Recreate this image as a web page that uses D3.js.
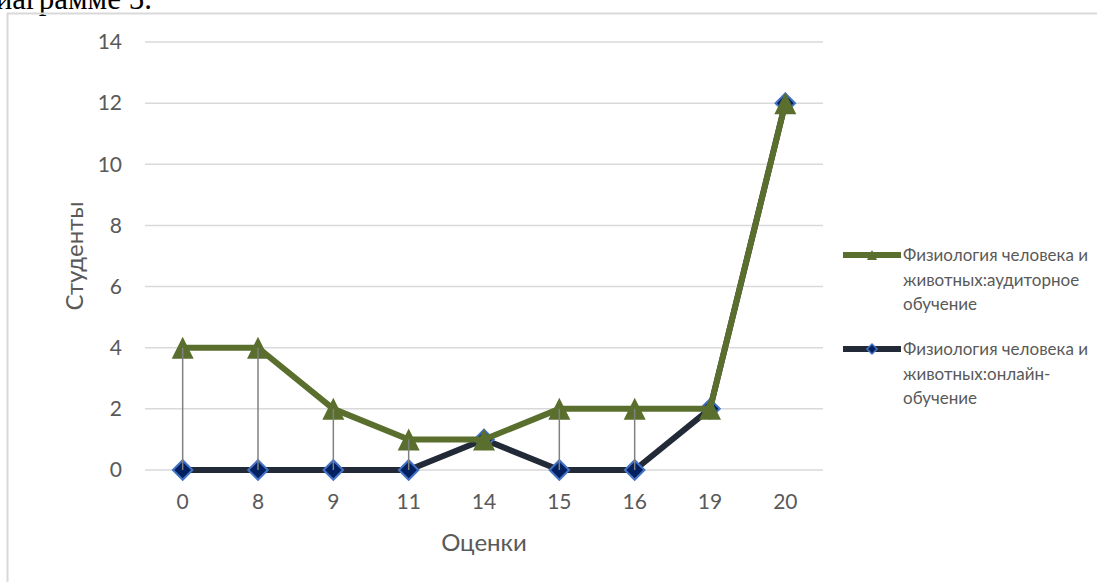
<!DOCTYPE html>
<html>
<head>
<meta charset="utf-8">
<script src="https://cdn.jsdelivr.net/npm/d3@7"></script>
<style>
  html, body { margin: 0; padding: 0; background: #fff; }
  svg { display: block; }
</style>
</head>
<body>
<svg id="chart" width="1097" height="582"></svg>
<script>
// Grades awarded and the number of students receiving each grade
const grades = ["0", "8", "9", "11", "14", "15", "16", "19", "20"];
const classroom = [4, 4, 2, 1, 1, 2, 2, 2, 12];
const online = [0, 0, 0, 0, 1, 0, 0, 2, 12];
const yTicks = [0, 2, 4, 6, 8, 10, 12, 14];
const seriesNames = [
  ["Физиология человека и", "животных:аудиторное", "обучение"],
  ["Физиология человека и", "животных:онлайн-", "обучение"]
];

const svg = d3.select("#chart");
const FONT = "Lato, 'Open Sans', sans-serif";

// Caption fragment above the chart frame
svg.append("text")
  .attr("x", 152).attr("y", 9)
  .attr("text-anchor", "end")
  .attr("font-family", "'Liberation Serif', 'Times New Roman', serif")
  .attr("font-size", 31)
  .attr("fill", "#000")
  .text("диаграмме 5.");

// Chart frame (left and top edges)
svg.append("path")
  .attr("d", "M7.5,600 V13.5 H1110")
  .attr("fill", "none")
  .attr("stroke", "#d9d9d9")
  .attr("stroke-width", 2);

const x = d3.scaleBand().domain(grades).range([145, 823]);
const y = d3.scaleLinear().domain([0, 14]).range([470, 42]);
const cx = g => x(g) + x.bandwidth() / 2;

// Horizontal gridlines
svg.append("g").selectAll("line").data(yTicks).join("line")
  .attr("x1", 145).attr("x2", 823)
  .attr("y1", d => y(d)).attr("y2", d => y(d))
  .attr("stroke", "#d9d9d9").attr("stroke-width", 1.5);

// Y axis labels
const yAxis = svg.append("g").attr("transform", "translate(122,0)")
  .call(d3.axisLeft(y).tickValues(yTicks).tickSize(0).tickPadding(0));
yAxis.select(".domain").remove();
yAxis.selectAll("text")
  .attr("font-family", FONT).attr("font-size", 21).attr("fill", "#595959")
  .attr("text-anchor", "end");

// X axis labels
const xAxis = svg.append("g").attr("transform", "translate(0,494)")
  .call(d3.axisBottom(x).tickSize(0).tickPadding(0));
xAxis.select(".domain").remove();
xAxis.selectAll("text")
  .attr("font-family", FONT).attr("font-size", 21).attr("fill", "#595959");

// Axis titles
svg.append("text")
  .attr("x", 484).attr("y", 551)
  .attr("text-anchor", "middle")
  .attr("font-family", FONT).attr("font-size", 24).attr("fill", "#595959")
  .text("Оценки");
svg.append("text")
  .attr("transform", "translate(83,256) rotate(-90)")
  .attr("text-anchor", "middle")
  .attr("font-family", FONT).attr("font-size", 24).attr("fill", "#595959")
  .text("Студенты");

const line = d3.line().x((d, i) => cx(grades[i])).y(d => y(d));

const GREEN = "#5a6f2d";
const DARK = "#222a38";
const NAVY = "#002060";
const BLUE = "#4472c4";

// Isosceles triangle marker centred on the point, height equal to base
const triPath = r => `M0,${-r}L${r},${r}L${-r},${r}Z`;
const diamond = d3.symbol().type(d3.symbolSquare).size(190);

// Online series (drawn underneath)
svg.append("path").datum(online)
  .attr("d", line).attr("fill", "none")
  .attr("stroke", DARK).attr("stroke-width", 6).attr("stroke-linejoin", "round");
svg.append("g").selectAll("path").data(online).join("path")
  .attr("d", diamond)
  .attr("transform", (d, i) => `translate(${cx(grades[i])},${y(d)}) rotate(45)`)
  .attr("fill", NAVY).attr("stroke", BLUE).attr("stroke-width", 2);

// Classroom series
svg.append("path").datum(classroom)
  .attr("d", line).attr("fill", "none")
  .attr("stroke", GREEN).attr("stroke-width", 6).attr("stroke-linejoin", "round");
svg.append("g").selectAll("path").data(classroom).join("path")
  .attr("d", triPath(11))
  .attr("transform", (d, i) => `translate(${cx(grades[i])},${y(d)})`)
  .attr("fill", GREEN);

// High-low lines connecting the two series at each grade
svg.append("g").selectAll("line").data(grades).join("line")
  .attr("x1", g => cx(g)).attr("x2", g => cx(g))
  .attr("y1", (g, i) => y(Math.max(classroom[i], online[i])))
  .attr("y2", (g, i) => y(Math.min(classroom[i], online[i])))
  .attr("stroke", "#808080").attr("stroke-width", 1.5);

// Legend
const legend = [
  { names: seriesNames[0], color: GREEN, marker: "tri", y: 255 },
  { names: seriesNames[1], color: DARK, marker: "dia", y: 349 }
];
legend.forEach(item => {
  const g = svg.append("g");
  g.append("line")
    .attr("x1", 843).attr("x2", 901)
    .attr("y1", item.y).attr("y2", item.y)
    .attr("stroke", item.color).attr("stroke-width", 6);
  if (item.marker === "tri") {
    g.append("path").attr("d", triPath(5))
      .attr("transform", `translate(872,${item.y})`).attr("fill", GREEN);
  } else {
    g.append("path").attr("d", d3.symbol().type(d3.symbolSquare).size(50))
      .attr("transform", `translate(872,${item.y}) rotate(45)`)
      .attr("fill", NAVY).attr("stroke", BLUE).attr("stroke-width", 1.5);
  }
  const t = g.append("text")
    .attr("font-family", FONT).attr("font-size", 17).attr("fill", "#595959");
  item.names.forEach((s, k) => {
    t.append("tspan").attr("x", 903).attr("y", item.y + 6 + k * 24.5).text(s);
  });
});
</script>
</body>
</html>
